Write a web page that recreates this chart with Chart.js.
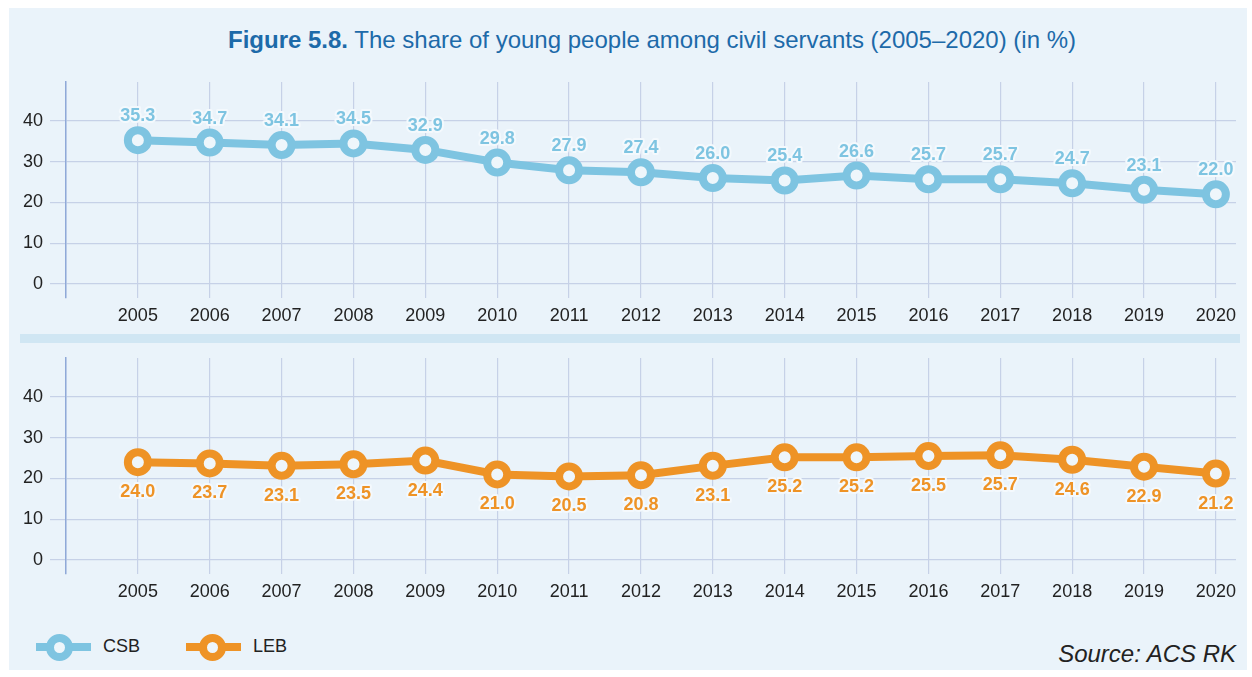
<!DOCTYPE html>
<html>
<head>
<meta charset="utf-8">
<script src="https://cdn.jsdelivr.net/npm/chart.js@4.4.1/dist/chart.umd.min.js"></script>
<style>
  html, body { margin: 0; padding: 0; background: #fff; }
  body { width: 1252px; height: 677px; position: relative; font-family: 'Liberation Sans', Arial, sans-serif; }
  .panel { position: absolute; left: 9px; top: 8px; width: 1238px; height: 662px; background: #eaf3fa; }
  .title { position: absolute; left: 0; top: 26px; width: 1304px; text-align: center; font-size: 24px; line-height: 28px; color: #1d6aa9; }
  .title b { font-weight: bold; }
  .box { position: absolute; left: 0; width: 1240px; height: 264px; }
  .sep { position: absolute; left: 20px; top: 334px; width: 1220px; height: 9px; background: #d0e6f3; }
  .leg { position: absolute; top: 634px; height: 26px; }
  .leg .ln { position: absolute; top: 9px; width: 55px; height: 8px; }
  .leg .pt { position: absolute; top: 0; width: 11px; height: 11px; border-radius: 50%; border: 8px solid; background: #eef6fb; }
  .leg span.tx { position: absolute; top: 2px; font-size: 18px; color: #222; }
  .src { position: absolute; right: 16px; top: 640px; font-size: 24px; font-style: italic; color: #222; }
</style>
</head>
<body>
<div class="panel"></div>
<div class="title"><b>Figure 5.8.</b> The share of young people among civil servants (2005–2020) (in %)</div>
<div class="box" style="top:70px"><canvas id="chartTop"></canvas></div>
<div class="sep"></div>
<div class="box" style="top:346px"><canvas id="chartBottom"></canvas></div>

<div class="leg" style="left:36px">
  <div class="ln" style="left:0;background:#7ec4e1"></div>
  <div class="pt" style="left:10px;border-color:#7ec4e1"></div>
  <span class="tx" style="left:67px">CSB</span>
</div>
<div class="leg" style="left:186px">
  <div class="ln" style="left:0;background:#ee9326"></div>
  <div class="pt" style="left:13px;border-color:#ee9326"></div>
  <span class="tx" style="left:67px">LEB</span>
</div>
<div class="src">Source: ACS RK</div>

<script>
const years = [2005, 2006, 2007, 2008, 2009, 2010, 2011, 2012, 2013, 2014, 2015, 2016, 2017, 2018, 2019, 2020];
const csbValues = [35.3, 34.7, 34.1, 34.5, 32.9, 29.8, 27.9, 27.4, 26.0, 25.4, 26.6, 25.7, 25.7, 24.7, 23.1, 22.0];
const lebValues = [24.0, 23.7, 23.1, 23.5, 24.4, 21.0, 20.5, 20.8, 23.1, 25.2, 25.2, 25.5, 25.7, 24.6, 22.9, 21.2];
const yTicks = [0, 10, 20, 30, 40];

const FONT = "'Liberation Sans', Arial, sans-serif";
const BG = '#eef6fb';

// draws the value labels above/below each point
const valueLabels = {
    id: 'valueLabels',
    afterDatasetsDraw(chart, args, opts) {
        const ctx = chart.ctx;
        const meta = chart.getDatasetMeta(0);
        const data = chart.data.datasets[0].data;
        ctx.save();
        ctx.font = 'bold 18px ' + FONT;
        ctx.textAlign = 'center';
        ctx.textBaseline = 'middle';
        ctx.lineJoin = 'round';
        meta.data.forEach(function (pt, i) {
            const txt = data[i].y.toFixed(1);
            const y = pt.y + opts.offset;
            ctx.lineWidth = 4;
            ctx.strokeStyle = '#f4f9fd';
            ctx.strokeText(txt, pt.x, y);
            ctx.fillStyle = opts.color;
            ctx.fillText(txt, pt.x, y);
        });
        ctx.restore();
    }
};

function noPad(scale) {
    scale.paddingTop = 0;
    scale.paddingBottom = 0;
    scale.paddingLeft = 0;
    scale.paddingRight = 0;
}

function makeChart(id, values, color, offset) {
    return new Chart(document.getElementById(id), {
        type: 'line',
        data: {
            datasets: [{
                data: years.map(function (yr, i) { return {x: yr, y: values[i]}; }),
                borderColor: color,
                borderWidth: 8,
                pointRadius: 10,
                pointHoverRadius: 10,
                pointBorderWidth: 8,
                pointBackgroundColor: BG,
                pointBorderColor: color,
                clip: false
            }]
        },
        options: {
            responsive: true,
            maintainAspectRatio: false,
            animation: false,
            events: [],
            layout: {autoPadding: false, padding: {top: 12, right: 4, left: 0, bottom: 0}},
            scales: {
                x: {
                    type: 'linear',
                    min: 2004,
                    max: 2020.28,
                    afterBuildTicks: function (scale) {
                        scale.ticks = [2004].concat(years).map(function (v) { return {value: v}; });
                    },
                    afterFit: function (scale) { scale.height = 36; noPad(scale); },
                    ticks: {
                        padding: 7,
                        color: '#222',
                        font: {size: 18, family: FONT},
                        callback: function (value) { return value === 2004 ? '' : String(value); }
                    },
                    grid: {color: '#c6d1e7', lineWidth: 1.2, drawTicks: false},
                    border: {display: false}
                },
                y: {
                    min: -3.44,
                    max: 49.57,
                    afterBuildTicks: function (scale) {
                        scale.ticks = yTicks.map(function (v) { return {value: v}; });
                    },
                    afterFit: function (scale) { scale.width = 66; noPad(scale); },
                    ticks: {
                        padding: 7,
                        color: '#222',
                        font: {size: 18, family: FONT}
                    },
                    grid: {color: '#c6d1e7', lineWidth: 1.2, tickLength: 16},
                    border: {color: '#8fa9d8', width: 1.5}
                }
            },
            plugins: {
                legend: {display: false},
                tooltip: {enabled: false},
                valueLabels: {color: color, offset: offset}
            }
        },
        plugins: [valueLabels]
    });
}

makeChart('chartTop', csbValues, '#7ec4e1', -24);
makeChart('chartBottom', lebValues, '#ee9326', 30);
</script>
</body>
</html>
